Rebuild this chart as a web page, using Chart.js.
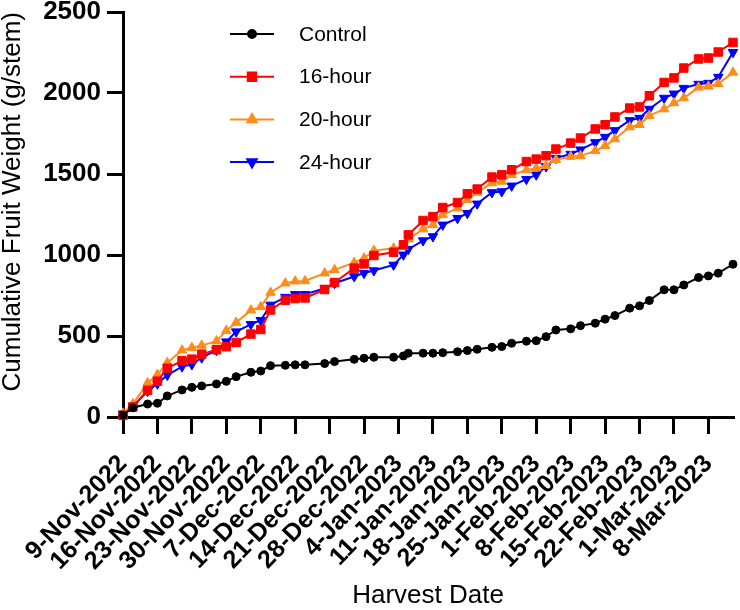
<!DOCTYPE html>
<html>
<head>
<meta charset="utf-8">
<script src="https://cdn.jsdelivr.net/npm/chart.js@4.4.0/dist/chart.umd.min.js"></script>
<style>
  html, body { margin: 0; padding: 0; background: #fff; }
  #wrap { width: 740px; height: 610px; }
</style>
</head>
<body>
<div id="wrap"><canvas id="myChart" width="740" height="610"></canvas></div>
<script>
// harvest dates (one point per harvest)
const harvestDates = [
  '2022-11-09', '2022-11-11', '2022-11-14', '2022-11-16', '2022-11-18', '2022-11-21',
  '2022-11-23', '2022-11-25', '2022-11-28', '2022-11-30', '2022-12-02', '2022-12-05',
  '2022-12-07', '2022-12-09', '2022-12-12', '2022-12-14', '2022-12-16', '2022-12-20',
  '2022-12-22', '2022-12-26', '2022-12-28', '2022-12-30', '2023-01-03', '2023-01-05',
  '2023-01-06', '2023-01-09', '2023-01-11', '2023-01-13', '2023-01-16', '2023-01-18',
  '2023-01-20', '2023-01-23', '2023-01-25', '2023-01-27', '2023-01-30', '2023-02-01',
  '2023-02-03', '2023-02-05', '2023-02-08', '2023-02-10', '2023-02-13', '2023-02-15',
  '2023-02-17', '2023-02-20', '2023-02-22', '2023-02-24', '2023-02-27', '2023-03-01',
  '2023-03-03', '2023-03-06', '2023-03-08', '2023-03-10', '2023-03-13'
];

// cumulative fruit weight, g/stem
const control = [
  12, 57, 80, 85, 130, 167, 183, 192, 204, 220, 249, 276, 284, 317, 319, 322, 322, 330,
  342, 356, 363, 369, 369, 377, 394, 394, 394, 397, 403, 410, 418, 430, 435, 455,
  468, 471, 496, 537, 544, 564, 579, 604, 626, 672, 686, 719, 785, 785, 815, 861, 871, 888, 943
];
const hour16 = [
  10, 62, 165, 221, 301, 348, 357, 388, 415, 434, 460, 512, 540, 661, 721, 731, 735, 787,
  830, 919, 945, 997, 1017, 1063, 1124, 1213, 1237, 1293, 1324, 1378, 1407, 1481, 1495, 1526,
  1577, 1592, 1613, 1654, 1691, 1722, 1778, 1804, 1852, 1907, 1914, 1983, 2065, 2093, 2154, 2210, 2216, 2253, 2312
];
const hour20 = [
  23, 80, 210, 262, 335, 412, 428, 442, 468, 533, 583, 659, 680, 768, 826, 838, 840, 888,
  908, 953, 980, 1027, 1042, 1052, 1098, 1160, 1186, 1248, 1289, 1341, 1386, 1444, 1454, 1495,
  1524, 1536, 1551, 1588, 1608, 1612, 1643, 1674, 1716, 1790, 1804, 1860, 1901, 1938, 1969, 2035, 2041, 2057, 2127
];
const hour24 = [
  20, 65, 160, 205, 259, 311, 324, 366, 412, 465, 527, 572, 597, 692, 740, 757, 757, 795,
  826, 867, 888, 904, 939, 1001, 1036, 1089, 1114, 1186, 1227, 1258, 1316, 1386, 1392, 1427,
  1468, 1495, 1546, 1598, 1623, 1650, 1695, 1728, 1769, 1831, 1845, 1901, 1969, 1995, 2030, 2055, 2061, 2098, 2251
];

const tickLabels = [
  '9-Nov-2022', '16-Nov-2022', '23-Nov-2022', '30-Nov-2022', '7-Dec-2022', '14-Dec-2022',
  '21-Dec-2022', '28-Dec-2022', '4-Jan-2023', '11-Jan-2023', '18-Jan-2023', '25-Jan-2023',
  '1-Feb-2023', '8-Feb-2023', '15-Feb-2023', '22-Feb-2023', '1-Mar-2023', '8-Mar-2023'
];
const lastDate = '2023-03-13';

const monthIdx = { Jan: 0, Feb: 1, Mar: 2, Nov: 10, Dec: 11 };
const start = Date.UTC(2022, 10, 9);
const dayOf = s => Math.round((Date.parse(s) - start) / 864e5);
const tickDays = tickLabels.map(s => {
  const [d, m, y] = s.split('-');
  return Math.round((Date.UTC(+y, monthIdx[m], +d) - start) / 864e5);
});
const days = harvestDates.map(dayOf);
const pts = vals => days.map((x, i) => ({ x: x, y: vals[i] }));

const series = [
  { label: 'Control', data: control, color: '#000000', style: 'circle', r: 4, rot: 0 },
  { label: '16-hour', data: hour16, color: '#ff0000', style: 'rect', r: 6, rot: 0 },
  { label: '20-hour', data: hour20, color: '#ff8c1a', style: 'triangle', r: 5.5, rot: 0 },
  { label: '24-hour', data: hour24, color: '#0000ff', style: 'triangle', r: 5.5, rot: 180 }
];

const sans = '"Liberation Sans", Arial, sans-serif';

// legend inside the plot, line + marker like the original
const innerLegend = {
  id: 'innerLegend',
  afterDraw(chart) {
    const ctx = chart.ctx;
    chart.data.datasets.forEach((ds, i) => {
      const y = 34 + i * 42.7;
      ctx.save();
      ctx.strokeStyle = ds.borderColor;
      ctx.fillStyle = ds.pointBackgroundColor;
      ctx.lineWidth = 2;
      ctx.beginPath();
      ctx.moveTo(230, y);
      ctx.lineTo(274, y);
      ctx.stroke();
      Chart.helpers.drawPoint(ctx, {
        pointStyle: ds.pointStyle, radius: ds.pointRadius,
        rotation: ds.pointRotation, borderWidth: 1
      }, 252, y);
      ctx.fillStyle = '#000';
      ctx.font = '21px ' + sans;
      ctx.textBaseline = 'middle';
      ctx.fillText(ds.label, 299, y + 1);
      ctx.restore();
    });
  }
};

const ctx = document.getElementById('myChart');
new Chart(ctx, {
  type: 'line',
  data: {
    datasets: series.map(s => ({
      label: s.label,
      data: pts(s.data),
      borderColor: s.color,
      backgroundColor: s.color,
      pointBackgroundColor: s.color,
      pointBorderColor: s.color,
      pointBorderWidth: 1,
      pointStyle: s.style,
      pointRadius: s.r,
      pointRotation: s.rot,
      borderWidth: 2,
      tension: 0,
      clip: false
    }))
  },
  options: {
    responsive: false,
    animation: false,
    layout: { padding: { top: 12, right: 7, bottom: 1, left: 0 } },
    plugins: { legend: { display: false }, tooltip: { enabled: false } },
    scales: {
      x: {
        type: 'linear',
        min: 0,
        max: dayOf(lastDate),
        afterBuildTicks: s => { s.ticks = tickDays.map(v => ({ value: v })); },
        afterFit: s => { s.height = 192; s.paddingLeft = 0; s.paddingRight = 0; },
        grid: { drawOnChartArea: false, color: '#000', lineWidth: 3, tickLength: 17 },
        border: { color: '#000', width: 3 },
        ticks: {
          autoSkip: false, minRotation: 46, maxRotation: 46, padding: 17, color: '#000',
          font: { family: sans, weight: 'bold', size: 25, lineHeight: 1 },
          callback: v => tickLabels[tickDays.indexOf(v)]
        },
        title: {
          display: true, text: 'Harvest Date', color: '#000', padding: 0,
          font: { family: sans, size: 26, lineHeight: 1 }
        }
      },
      y: {
        min: 0,
        max: 2500,
        afterFit: s => { s.width = 123; s.paddingTop = 0; s.paddingBottom = 0; },
        grid: { drawOnChartArea: false, color: '#000', lineWidth: 3, tickLength: 16 },
        border: { color: '#000', width: 3 },
        ticks: {
          stepSize: 500, padding: 6, color: '#000',
          font: { family: sans, weight: 'bold', size: 26 },
          callback: v => String(v)
        },
        title: {
          display: true, text: 'Cumulative Fruit Weight (g/stem)', color: '#000', padding: 0,
          align: 'end',
          font: { family: sans, size: 26, lineHeight: 1 }
        }
      }
    }
  },
  plugins: [innerLegend]
});
</script>
</body>
</html>
